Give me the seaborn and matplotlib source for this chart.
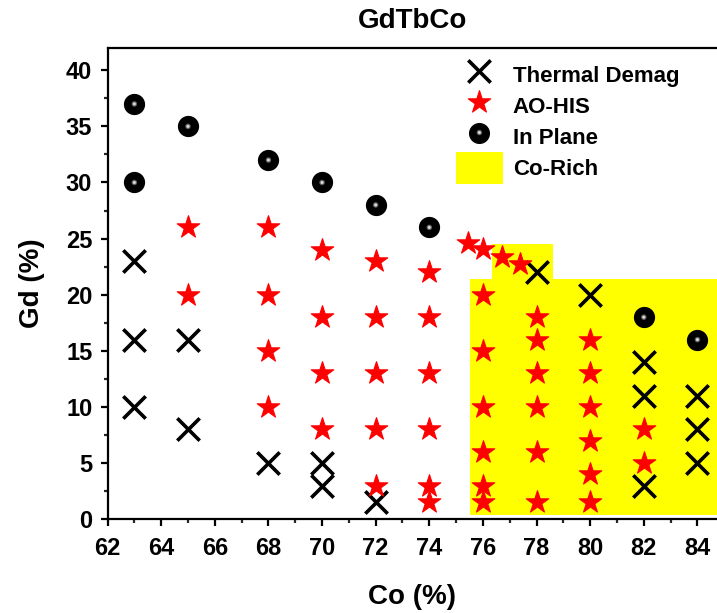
import matplotlib
matplotlib.use("Agg")
import matplotlib.pyplot as plt
import pandas as pd
import seaborn as sns
from matplotlib.patches import Rectangle, Patch
from matplotlib.legend_handler import HandlerTuple
from matplotlib.ticker import MultipleLocator

# data
td_co = [63, 63, 63, 65, 65, 68, 70, 70, 72, 78, 80, 82, 82, 82, 84, 84, 84]
td_gd = [23, 16, 10, 16, 8, 5, 5, 3, 1.5, 22, 20, 14, 11, 3, 11, 8, 5]

ao_co = [65, 65, 68, 68, 68, 68, 70, 70, 70, 70, 72, 72, 72, 72, 72,
         74, 74, 74, 74, 74, 74, 75.45, 76, 76.7, 77.4,
         76, 76, 76, 76, 76, 76, 78, 78, 78, 78, 78, 78,
         80, 80, 80, 80, 80, 80, 82, 82]
ao_gd = [26, 20, 26, 20, 15, 10, 24, 18, 13, 8, 23, 18, 13, 8, 3,
         22, 18, 13, 8, 3, 1.5, 24.6, 24.1, 23.4, 22.7,
         20, 15, 10, 6, 3, 1.5, 18, 16, 13, 10, 6, 1.5,
         16, 13, 10, 7, 4, 1.5, 8, 5]

ip_co = [63, 63, 65, 68, 70, 72, 74, 82, 84]
ip_gd = [37, 30, 35, 32, 30, 28, 26, 18, 16]

# Co-rich region (two blocks)
rich_x0 = [75.5, 76.35]
rich_x1 = [85.0, 78.6]
rich_y0 = [0.4, 21.4]
rich_y1 = [21.4, 24.55]

sns.set_style("ticks")
plt.rcParams['font.family'] = ['Liberation Sans', 'DejaVu Sans']
plt.rcParams['font.weight'] = 'bold'
plt.rcParams['axes.labelweight'] = 'bold'
plt.rcParams['text.color'] = 'black'
plt.rcParams['axes.labelcolor'] = 'black'

fig = plt.figure(figsize=(7.17, 6.13), dpi=100)
ax = fig.add_axes([0.150, 0.153, 0.85, 0.769])

for x0, x1, y0, y1 in zip(rich_x0, rich_x1, rich_y0, rich_y1):
    ax.add_patch(Rectangle((x0, y0), x1 - x0, y1 - y0, facecolor='#ffff00',
                           edgecolor='none', zorder=1))

df_td = pd.DataFrame({'co': td_co, 'gd': td_gd})
df_ao = pd.DataFrame({'co': ao_co, 'gd': ao_gd})
df_ip = pd.DataFrame({'co': ip_co, 'gd': ip_gd})

x_kw = dict(marker='x', s=260, color='black', linewidth=2.6)
star_kw = dict(marker='*', s=290, color='red', edgecolor='red', linewidth=0.8)
ball_kw = dict(marker='o', s=200, color='black', edgecolor='black')
glow_kw = dict(marker='o', s=16, color='#5e5e5e', edgecolor='none')
spot_kw = dict(marker='o', s=5, color='#d8d8d8', edgecolor='none')

sns.scatterplot(data=df_td, x='co', y='gd', ax=ax, zorder=3, **x_kw)
sns.scatterplot(data=df_ao, x='co', y='gd', ax=ax, zorder=3, **star_kw)
sns.scatterplot(data=df_ip, x='co', y='gd', ax=ax, zorder=3, **ball_kw)
# highlight on the balls
sns.scatterplot(data=df_ip, x='co', y='gd', ax=ax, zorder=4, **glow_kw)
sns.scatterplot(data=df_ip, x='co', y='gd', ax=ax, zorder=5, **spot_kw)

ax.set_xlim(62, 84.73)
ax.set_ylim(0, 42)
ax.xaxis.set_major_locator(MultipleLocator(2))
ax.xaxis.set_minor_locator(MultipleLocator(1))
ax.yaxis.set_major_locator(MultipleLocator(5))
ax.yaxis.set_minor_locator(MultipleLocator(2.5))
ax.tick_params(which='major', direction='out', length=5, width=1.6,
               labelsize=17, colors='black')
ax.tick_params(which='minor', direction='out', length=3, width=1.6)
ax.tick_params(axis='x', which='major', pad=8)
ax.tick_params(axis='y', which='major', pad=6)
for side in ['left', 'bottom', 'top']:
    ax.spines[side].set_linewidth(1.6)
    ax.spines[side].set_color('black')
ax.spines['right'].set_visible(False)

ax.set_xlabel('Co (%)', fontsize=20, labelpad=17)
ax.set_ylabel('Gd (%)', fontsize=20, labelpad=15)
ax.set_title('GdTbCo', fontsize=20, fontweight='bold', pad=14)

h_td = ax.scatter([], [], **x_kw)
h_ao = ax.scatter([], [], **star_kw)
h_ip = (ax.scatter([], [], **ball_kw), ax.scatter([], [], **glow_kw),
        ax.scatter([], [], **spot_kw))
h_rich = Patch(facecolor='#ffff00', edgecolor='none')

ax.legend([h_td, h_ao, h_ip, h_rich],
          ['Thermal Demag', 'AO-HIS', 'In Plane', 'Co-Rich'],
          handler_map={tuple: HandlerTuple(ndivide=1, pad=0)},
          loc='upper left', bbox_to_anchor=(0.636, 0.903),
          bbox_transform=fig.transFigure, frameon=False, fontsize=16,
          handlelength=2.1, handleheight=1.77, labelspacing=0.0,
          handletextpad=0.45, borderpad=0, borderaxespad=0)

fig.savefig('out.png', dpi=100)
